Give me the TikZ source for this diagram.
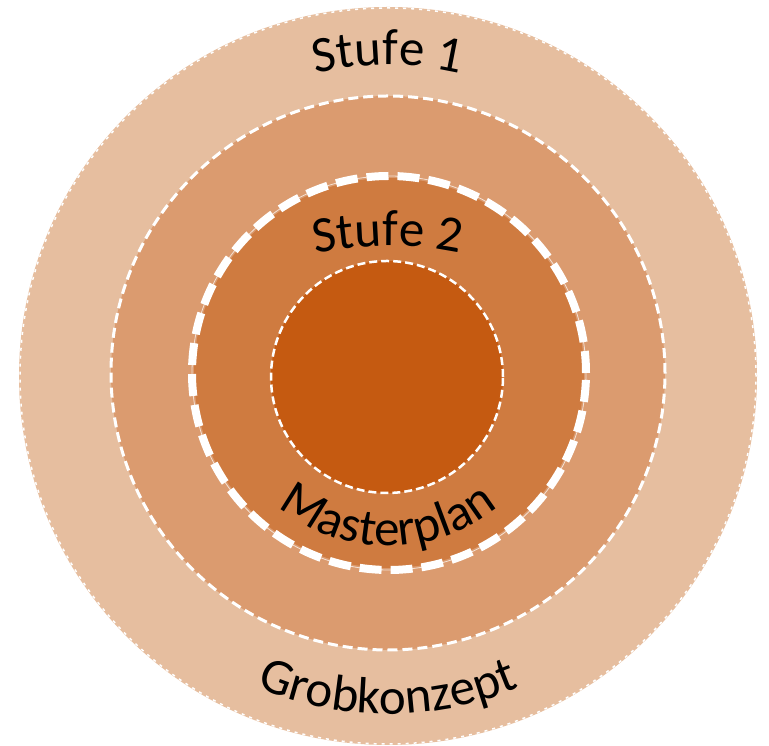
\documentclass[tikz,border=0pt]{standalone}
\usepackage{fontspec}
\setmainfont{Carlito}
\usetikzlibrary{decorations.text,calc}
\definecolor{ringA}{HTML}{E6BE9F}
\definecolor{ringB}{HTML}{DB9B6F}
\definecolor{ringC}{HTML}{CF7B40}
\definecolor{ringD}{HTML}{C55A11}
\newcommand\lblfont{\fontsize{51}{51}\selectfont}
\tikzset{
  arctext/.style={decorate, decoration={text along path, text align=center, text={|\lblfont|#1}}},
  thinborder/.style={white, line width=1.5, dash pattern=on 3 off 5},
  midborder/.style={white, line width=3, dash pattern=on 10 off 5},
  thickborder/.style={white, line width=8, dash pattern=on 22 off 9},
  innerborder/.style={white, line width=2.5, dash pattern=on 8 off 4}
}
\begin{document}
\begin{tikzpicture}[x=1pt,y=1pt]
\useasboundingbox (0,0) rectangle (769,746);
\coordinate (cA) at (388,370);
\coordinate (cB) at (388,373);
\coordinate (cC) at (389,373);
\coordinate (cD) at (387,369);
\coordinate (cS2) at (388,150);
% outer ring
\fill[ringA] (cA) circle[radius=369];
\draw[thinborder] (cA) circle[radius=368];
% second ring
\fill[ringB] (cB) circle[radius=277];
\draw[midborder] (cB) circle[radius=277];
% third ring
\fill[ringC] (cC) circle[radius=195];
\draw[white, line width=0.8, opacity=0.7] (cC) circle[radius=197];
\draw[thickborder] (cC) circle[radius=197];
% inner disc
\fill[ringD] (cD) circle[radius=116];
\draw[innerborder] (cD) circle[radius=116];
% curved labels
\path[arctext={Stufe 1}] ($(cA)+(125:311)$) arc[start angle=125, end angle=55, radius=311];
\path[arctext={Stufe 2}] ($(cS2)+(110:350)$) arc[start angle=110, end angle=70, radius=350];
\path[arctext={Masterplan}] ($(cB)+(200:173)$) arc[start angle=200, end angle=340, radius=173];
\path[arctext={Grobkonzept}] ($(cA)+(230:338)$) arc[start angle=230, end angle=310, radius=338];
\end{tikzpicture}
\end{document}
